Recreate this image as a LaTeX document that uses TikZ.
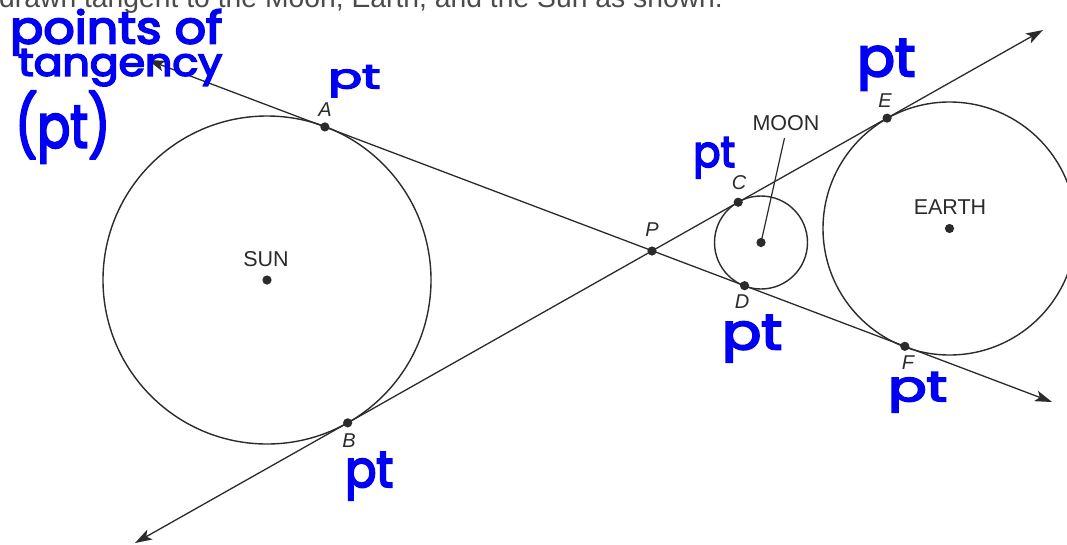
\documentclass[tikz,border=0pt]{standalone}
\usepackage{fontspec}
\setmainfont{Liberation Sans}
\newfontfamily\hand{Poppins}[FakeBold=4]
\usepackage{graphicx}
\usetikzlibrary{arrows.meta,calc}
\definecolor{ink}{HTML}{2B2B2B}
\definecolor{pen}{RGB}{0,0,245}
\newcommand\hw[3]{\resizebox*{#1pt}{#2pt}{\hand #3}}
\tikzset{
  ray/.style={draw=ink, line width=1.3pt, {Stealth[length=17pt,width=11pt,inset=4pt]}-{Stealth[length=17pt,width=11pt,inset=4pt]}},
  bodyline/.style={draw=ink, line width=1.4pt},
  ptletter/.style={inner sep=0pt, text=ink, font=\itshape\fontsize{20}{20}\selectfont},
  bodyname/.style={inner sep=0pt, text=ink, font=\fontsize{21.5}{22}\selectfont},
  hwn/.style={inner sep=0pt, anchor=north west, text=pen},
}
\begin{document}
\begin{tikzpicture}[x=1pt,y=-1pt]
\useasboundingbox (0,0) rectangle (1067,544);
\clip (0,0) rectangle (1067,544);
\fill[white] (0,0) rectangle (1067,544);

% header (cut off at the top)
\node[anchor=base west, inner sep=0pt, text=ink!85, font=\fontsize{28.3}{30}\selectfont] (header) at (-1,7) {drawn tangent to the Moon, Earth, and the Sun as shown.};

% centres
\coordinate (sun) at (267,280);
\coordinate (moon) at (761,242.5);
\coordinate (earth) at (949.5,228.5);

% line ends
\coordinate (P) at (652,251);
\coordinate (L1a) at (148,60);
\coordinate (L1b) at (1052,402);
\coordinate (L2a) at (135,543);
\coordinate (L2b) at (1043,30);

% tangency points
\coordinate (A) at ($(L1a)!(sun)!(L1b)$);
\coordinate (B) at ($(L2a)!(sun)!(L2b)$);
\coordinate (C) at ($(L2a)!(moon)!(L2b)$);
\coordinate (D) at ($(L1a)!(moon)!(L1b)$);
\coordinate (E) at ($(L2a)!(earth)!(L2b)$);
\coordinate (F) at ($(L1a)!(earth)!(L1b)$);

% circles
\draw[bodyline] (sun) circle (164pt);
\draw[bodyline] (moon) circle (46.5pt);
\draw[bodyline] (earth) circle (126.5pt);

% tangent lines
\draw[ray] (L1a) -- (L1b);
\draw[ray] (L2a) -- (L2b);

% dots
\foreach \p in {A,B,C,D,E,F,P,sun,moon,earth}
  \fill[ink] (\p) circle (4.6pt);

% letters
\node[ptletter] (lA) at (325,110) {A};
\node[ptletter] (lB) at (349,441) {B};
\node[ptletter] (lC) at (739,183) {C};
\node[ptletter] (lD) at (742,302) {D};
\node[ptletter] (lE) at (885,101) {E};
\node[ptletter] (lF) at (908,363) {F};
\node[ptletter] (lP) at (652,230) {P};

% names
\node[bodyname] (sunlbl) at (266,259.5) {SUN};
\node[bodyname] (moonlbl) at (786,123.5) {MOON};
\node[bodyname] (earthlbl) at (950,207.5) {EARTH};
\draw[ink, line width=1.2pt, shorten <=7pt] (moonlbl.south) -- (moon);

% handwriting
\node[hwn] (h1) at (10,9) {\hw{212}{46}{points of}};
\node[hwn] (h2) at (18,49) {\hw{204}{37}{tangency}};
\node[hwn] (h3) at (15,91) {\hw{95}{72}{(pt)}};
\node[hwn] (ptA) at (328,65) {\hw{52}{32}{pt}};
\node[hwn] (ptE) at (857,39) {\hw{58}{51}{pt}};
\node[hwn] (ptC) at (693,137) {\hw{42}{41}{pt}};
\node[hwn] (ptD) at (722,315) {\hw{60}{47}{pt}};
\node[hwn] (ptF) at (888,372) {\hw{59}{40}{pt}};
\node[hwn] (ptB) at (345,452) {\hw{48}{48}{pt}};
\end{tikzpicture}
\end{document}
